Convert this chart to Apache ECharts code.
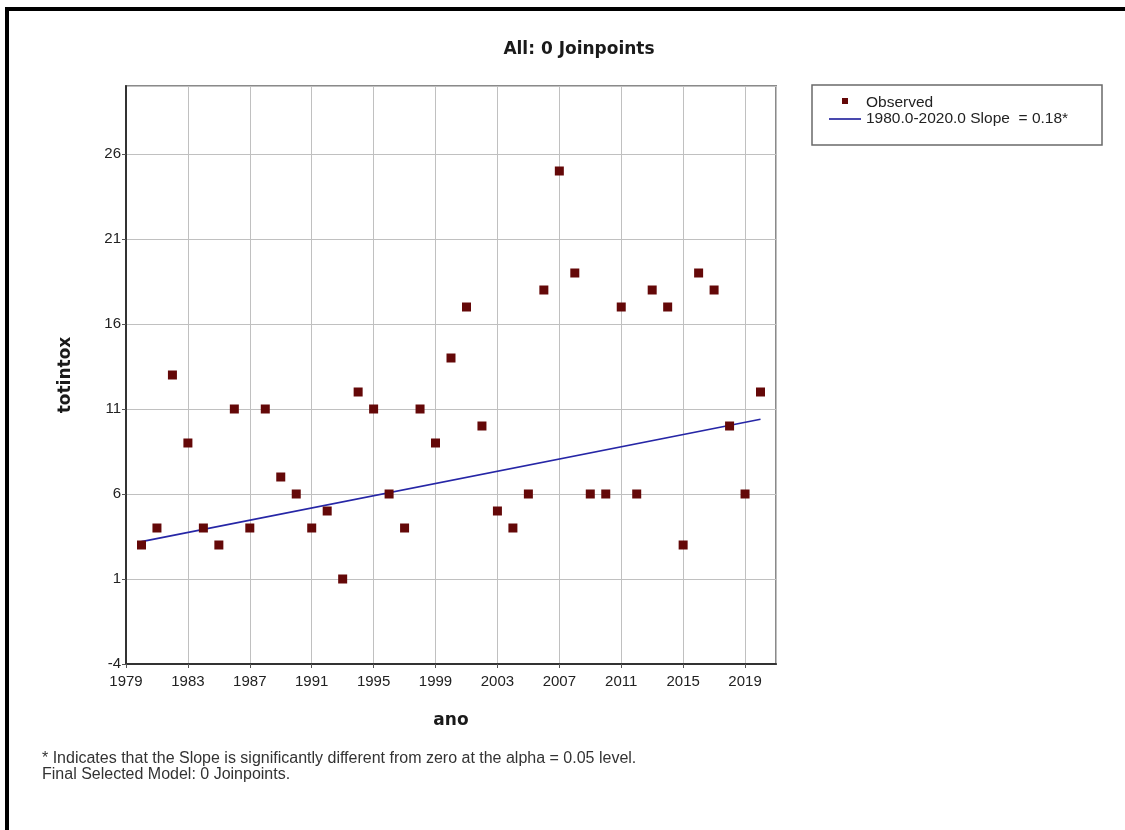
<!DOCTYPE html>
<html>
<head>
<meta charset="utf-8">
<script src="https://cdn.jsdelivr.net/npm/echarts@6/dist/echarts.min.js"></script>
<style>
html,body{margin:0;padding:0;background:#fff;}
#chart{width:1125px;height:830px;}
</style>
</head>
<body>
<div id="chart"></div>
<script>
// ---- data ----
const years = [1980,1981,1982,1983,1984,1985,1986,1987,1988,1989,1990,1991,1992,1993,1994,1995,1996,1997,1998,1999,2000,2001,2002,2003,2004,2005,2006,2007,2008,2009,2010,2011,2012,2013,2014,2015,2016,2017,2018,2019,2020];
const observed = [3,4,13,9,4,3,11,4,11,7,6,4,5,1,12,11,6,4,11,9,14,17,10,5,4,6,18,25,19,6,6,17,6,18,17,3,19,18,10,6,12];
const trendYears = [1980, 2020];
const trendValues = [3.2, 10.4];
const titleText = 'All: 0 Joinpoints';
const xName = 'ano';
const yName = 'totintox';
const observedName = 'Observed';
const trendName = '1980.0-2020.0 Slope  = 0.18*';
const footnotes = ['* Indicates that the Slope is significantly different from zero at the alpha = 0.05 level.', 'Final Selected Model: 0 Joinpoints.'];

const chart = echarts.init(document.getElementById('chart'), null, {renderer:'canvas'});
const labelFont = '"Liberation Sans", Arial, sans-serif';
const boldFont = '"DejaVu Sans", Verdana, sans-serif';

const option = {
  backgroundColor: '#ffffff',
  animation: false,
  title: {
    text: titleText,
    left: 574,
    top: 36,
    textAlign: 'center',
    textStyle: {fontFamily: boldFont, fontWeight: 'bold', fontSize: 17, color: '#1a1a1a'}
  },
  grid: {
    left: 126, top: 86, width: 650, height: 578,
    show: true, borderColor: '#8a8a8a', borderWidth: 2, backgroundColor: 'transparent'
  },
  legend: {
    left: 824, top: 90, orient: 'vertical', itemGap: 0,
    itemWidth: 32, itemHeight: 14,
    textStyle: {fontFamily: labelFont, fontSize: 15.5, color: '#222'},
    data: [
      {name: observedName, icon: 'path://M0,0 M32,14 M13,2 h6 v6 h-6 z'},
      {name: trendName, icon: 'path://M0,0 M32,14 M0,6.2 h32 v1.6 h-32 z'}
    ]
  },
  xAxis: {
    type: 'value', min: 1979, max: 2021, interval: 4,
    name: xName, nameLocation: 'middle', nameGap: 48,
    nameTextStyle: {fontFamily: boldFont, fontWeight: 'bold', fontSize: 17, color: '#1a1a1a'},
    axisLine: {show: true, onZero: false, lineStyle: {color: '#333', width: 2}},
    axisTick: {show: true, length: 4, lineStyle: {color: '#555'}},
    axisLabel: {fontFamily: labelFont, fontSize: 15, color: '#222', margin: 10, showMaxLabel: false,
      formatter: v => String(v)},
    splitLine: {show: true, lineStyle: {color: '#c0c0c0', width: 1}}
  },
  yAxis: {
    type: 'value', min: -4, max: 30, interval: 5,
    name: yName, nameLocation: 'middle', nameGap: 52, nameRotate: 90,
    nameTextStyle: {fontFamily: boldFont, fontWeight: 'bold', fontSize: 17, color: '#1a1a1a'},
    axisLine: {show: true, onZero: false, lineStyle: {color: '#333', width: 2}},
    axisTick: {show: true, length: 4, lineStyle: {color: '#555'}},
    axisLabel: {fontFamily: labelFont, fontSize: 15, color: '#222', margin: 5, showMaxLabel: false},
    splitLine: {show: true, lineStyle: {color: '#c0c0c0', width: 1}}
  },
  series: [
    {
      name: trendName, type: 'line', showSymbol: false, symbol: 'none',
      data: trendYears.map((y, i) => [y, trendValues[i]]),
      lineStyle: {color: '#2626a6', width: 1.6},
      itemStyle: {color: '#1c1c9a'},
      z: 3
    },
    {
      name: observedName, type: 'scatter', symbol: 'rect', symbolSize: 9,
      data: years.map((y, i) => [y, observed[i]]),
      itemStyle: {color: '#640808', opacity: 1},
      z: 4
    }
  ],
  graphic: [
    {type: 'rect', shape: {x: 5, y: 7, width: 1120, height: 4}, style: {fill: '#000'}, silent: true},
    {type: 'rect', shape: {x: 5, y: 7, width: 4, height: 823}, style: {fill: '#000'}, silent: true},
    {type: 'rect', shape: {x: 812, y: 85, width: 290, height: 60}, style: {fill: 'none', stroke: '#6a6a6a', lineWidth: 1.5}, silent: true, z: -1},
    {type: 'text', left: 42, top: 751, style: {text: footnotes[0], font: '16px ' + labelFont, fill: '#333'}},
    {type: 'text', left: 42, top: 767, style: {text: footnotes[1], font: '16px ' + labelFont, fill: '#333'}}
  ]
};
chart.setOption(option);
</script>
</body>
</html>
